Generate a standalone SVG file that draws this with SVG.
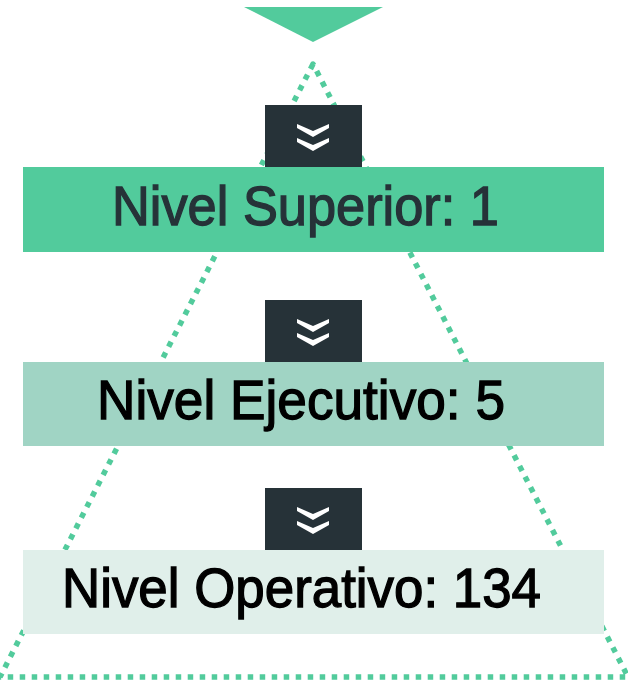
<svg xmlns="http://www.w3.org/2000/svg" width="628" height="681" viewBox="0 0 628 681">
<style>
.dots{fill:none;stroke:#52CB9C;stroke-width:5.5;stroke-dasharray:5.5 6.5;stroke-linejoin:round}
.box{fill:#263238}
.chev{fill:#FFFFFF}
.lbl{font-family:"Liberation Sans",Arial,sans-serif;font-size:55px;stroke-width:1.3}
</style>
<defs>
<path id="chevs" class="chev" d="M-16,0 L0,7 L16,0 L16,4 L0,13 L-16,4 Z M-16,14 L0,21 L16,14 L16,18 L0,27 L-16,18 Z"/>
</defs>
<rect width="628" height="681" fill="#FFFFFF"/>
<g id="connectors">
<polygon class="dots" points="313,64 0,677 628,677"/>
</g>
<g id="top-arrow"><polygon points="244,7 383,7 313,42" fill="#52CB9C"/></g>
<g id="chev1"><rect class="box" x="265" y="105" width="97" height="62"/>
<use href="#chevs" x="313" y="124"/></g>
<g id="nivel-superior"><rect x="23" y="167" width="581" height="85" fill="#52CB9C"/>
<text class="lbl" x="112" y="225" fill="#263238" stroke="#263238" textLength="387" lengthAdjust="spacingAndGlyphs">Nivel Superior: 1</text></g>
<g id="chev2"><rect class="box" x="265" y="300" width="97" height="62"/>
<use href="#chevs" x="313" y="319"/></g>
<g id="nivel-ejecutivo"><rect x="23" y="362" width="581" height="84" fill="#A0D4C4"/>
<text class="lbl" x="97" y="419" fill="#000000" stroke="#000000" textLength="408" lengthAdjust="spacingAndGlyphs">Nivel Ejecutivo: 5</text></g>
<g id="chev3"><rect class="box" x="265" y="488" width="97" height="62"/>
<use href="#chevs" x="313" y="507"/></g>
<g id="nivel-operativo"><rect x="23" y="550" width="581" height="84" fill="#E0EFEA"/>
<text class="lbl" x="62" y="607" fill="#000000" stroke="#000000" textLength="479" lengthAdjust="spacingAndGlyphs">Nivel Operativo: 134</text></g>
</svg>
